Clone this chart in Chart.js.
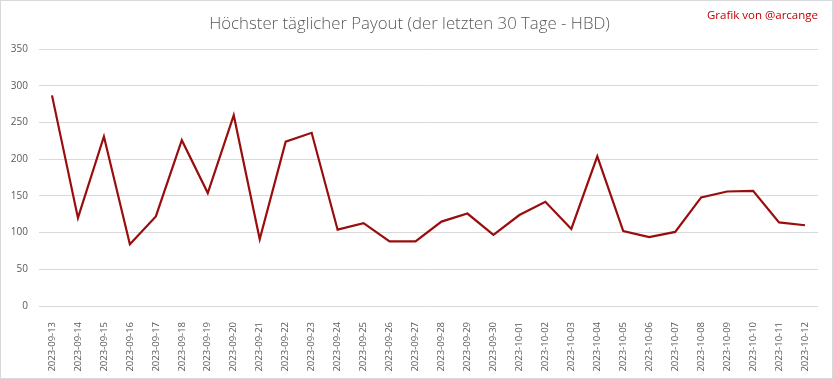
<!DOCTYPE html>
<html>
<head>
<meta charset="utf-8">
<script src="https://cdn.jsdelivr.net/npm/chart.js@4/dist/chart.umd.min.js"></script>
<style>
  html, body { margin: 0; padding: 0; background: #fff; }
  #wrap { position: relative; width: 831px; height: 377px; border: 1px solid #d9d9d9; }
  #credit { position: absolute; top: 6px; right: 14px; font: 11.5px "Open Sans", sans-serif; color: #c00000; }
</style>
</head>
<body>
<div id="wrap">
  <canvas id="payoutChart" width="831" height="377"></canvas>
  <div id="credit">Grafik von @arcange</div>
</div>
<script>
// --- Daten ---
const dates = [
  '2023-09-13', '2023-09-14', '2023-09-15', '2023-09-16', '2023-09-17', '2023-09-18',
  '2023-09-19', '2023-09-20', '2023-09-21', '2023-09-22', '2023-09-23', '2023-09-24',
  '2023-09-25', '2023-09-26', '2023-09-27', '2023-09-28', '2023-09-29', '2023-09-30',
  '2023-10-01', '2023-10-02', '2023-10-03', '2023-10-04', '2023-10-05', '2023-10-06',
  '2023-10-07', '2023-10-08', '2023-10-09', '2023-10-10', '2023-10-11', '2023-10-12'
];
const maxPayout = [
  287, 120, 231, 84, 122, 226, 154, 260, 91, 224, 236, 104,
  113, 88, 88, 115, 126, 97, 124, 142, 105, 204, 102, 94,
  101, 148, 156, 157, 114, 110
];
const yTicks = [0, 50, 100, 150, 200, 250, 300, 350];

const TEXT_GRAY = '#595959';

// --- Chart ---
const ctx = document.getElementById('payoutChart').getContext('2d');
new Chart(ctx, {
  type: 'line',
  data: {
    labels: dates,
    datasets: [{
      label: 'HBD',
      data: maxPayout,
      borderColor: '#990d0d',
      borderWidth: 2.2,
      pointRadius: 0,
      tension: 0,
      fill: false
    }]
  },
  options: {
    responsive: false,
    animation: false,
    layout: { padding: { left: 0, right: 14, top: 0, bottom: 0 } },
    plugins: {
      legend: { display: false },
      tooltip: { enabled: false },
      title: {
        display: true,
        text: 'Höchster täglicher Payout (der letzten 30 Tage - HBD)',
        color: TEXT_GRAY,
        font: { family: '"Open Sans"', size: 16.8, weight: '300' },
        padding: { top: 13, bottom: 15 }
      }
    },
    scales: {
      x: {
        offset: true,
        afterFit: (scale) => { scale.height = 72; },
        grid: { display: false },
        border: { display: false },
        ticks: {
          color: TEXT_GRAY,
          font: { family: '"Open Sans"', size: 9.5 },
          minRotation: 90,
          maxRotation: 90,
          autoSkip: false,
          padding: 8
        }
      },
      y: {
        min: 0,
        max: 350,
        afterFit: (scale) => { scale.width = 38; },
        afterBuildTicks: (scale) => { scale.ticks = yTicks.map(v => ({ value: v })); },
        grid: { color: '#d9d9d9', drawTicks: false },
        border: { display: false },
        ticks: {
          color: TEXT_GRAY,
          font: { family: '"Open Sans"', size: 10 },
          padding: 11
        }
      }
    }
  }
});
</script>
</body>
</html>
